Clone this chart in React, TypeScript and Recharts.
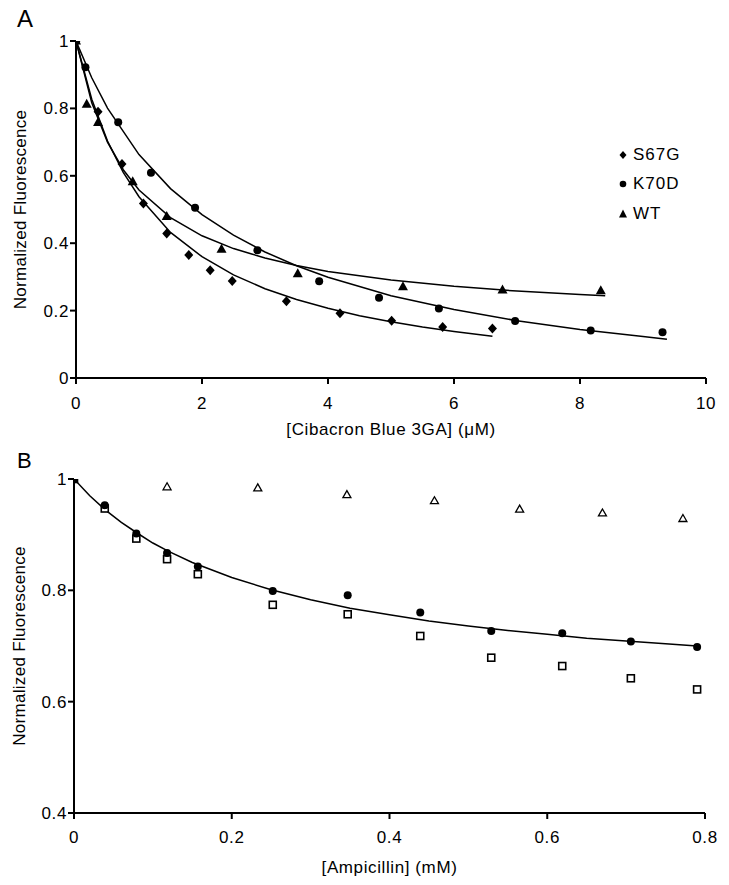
import { Label, Scatter, ScatterChart, XAxis, YAxis } from "recharts";

const FONT = "'Liberation Sans', Arial, Helvetica, sans-serif";

// Panel A: Cibacron Blue 3GA titration (µM)
const s67gX = [0, 0.35, 0.73, 1.07, 1.44, 1.79, 2.13, 2.48, 3.34, 4.19, 5.01, 5.82, 6.61];
const s67gY = [1, 0.79, 0.635, 0.518, 0.429, 0.365, 0.32, 0.288, 0.228, 0.192, 0.17, 0.151, 0.147];
const k70dX = [0, 0.15, 0.67, 1.19, 1.89, 2.88, 3.86, 4.81, 5.76, 6.97, 8.17, 9.31];
const k70dY = [1, 0.922, 0.759, 0.609, 0.505, 0.379, 0.287, 0.238, 0.206, 0.169, 0.141, 0.136];
const wtX = [0, 0.17, 0.35, 0.9, 1.44, 2.31, 3.52, 5.19, 6.77, 8.33];
const wtY = [1, 0.812, 0.758, 0.582, 0.479, 0.382, 0.309, 0.271, 0.261, 0.259];

// fitted curves
const s67gFitX = [0, 0.25, 0.5, 0.75, 1, 1.5, 2, 2.5, 3, 3.5, 4, 4.5, 5, 5.5, 6, 6.61];
const s67gFitY = [1, 0.827, 0.703, 0.61, 0.538, 0.432, 0.36, 0.306, 0.265, 0.233, 0.207, 0.185, 0.167, 0.151, 0.138, 0.124];
const k70dFitX = [0, 0.25, 0.5, 1, 1.5, 2, 2.5, 3, 3.5, 4, 5, 6, 7, 8, 9, 9.38];
const k70dFitY = [1, 0.891, 0.801, 0.663, 0.562, 0.485, 0.424, 0.374, 0.333, 0.299, 0.244, 0.203, 0.17, 0.144, 0.123, 0.115];
const wtFitX = [0, 0.25, 0.5, 0.75, 1, 1.5, 2, 2.5, 3, 3.5, 4, 5, 6, 7, 8, 8.4];
const wtFitY = [1, 0.817, 0.7, 0.618, 0.558, 0.476, 0.422, 0.384, 0.356, 0.334, 0.316, 0.291, 0.272, 0.258, 0.248, 0.244];

// Panel B: ampicillin titration (mM)
const ampFilledX = [0, 0.039, 0.079, 0.118, 0.157, 0.252, 0.347, 0.439, 0.529, 0.619, 0.706, 0.79];
const ampFilledY = [1, 0.953, 0.902, 0.867, 0.843, 0.799, 0.791, 0.76, 0.727, 0.723, 0.708, 0.698];
const ampSquareX = [0, 0.039, 0.079, 0.118, 0.157, 0.252, 0.347, 0.439, 0.529, 0.619, 0.706, 0.79];
const ampSquareY = [1, 0.947, 0.893, 0.856, 0.829, 0.774, 0.757, 0.718, 0.679, 0.664, 0.642, 0.622];
const ampTriX = [0.118, 0.233, 0.346, 0.457, 0.565, 0.67, 0.772];
const ampTriY = [0.986, 0.984, 0.972, 0.961, 0.946, 0.939, 0.929];
const ampFitX = [0, 0.02, 0.04, 0.06, 0.08, 0.1, 0.12, 0.15, 0.2, 0.25, 0.3, 0.35, 0.4, 0.45, 0.5, 0.55, 0.6, 0.65, 0.7, 0.75, 0.79];
const ampFitY = [1, 0.97, 0.944, 0.922, 0.903, 0.885, 0.87, 0.85, 0.823, 0.801, 0.783, 0.768, 0.756, 0.745, 0.736, 0.728, 0.721, 0.714, 0.709, 0.704, 0.7];

const ticksA = [0, 2, 4, 6, 8, 10];
const yTicksA = [0, 0.2, 0.4, 0.6, 0.8, 1];
const ticksB = [0, 0.2, 0.4, 0.6, 0.8];
const yTicksB = [0.4, 0.6, 0.8, 1];

const zip = (xs: number[], ys: number[]) => xs.map((x, i) => ({ x, y: ys[i] }));

const tickStyle = { fontSize: 17, fill: "#000", fontFamily: FONT, letterSpacing: 0.6 };
const titleStyle = { fontSize: 17, fill: "#000", fontFamily: FONT, letterSpacing: 0.6, textAnchor: "middle" as const };
const yTitleStyle = { ...titleStyle, letterSpacing: 0.3 };
const axisLine = { stroke: "#000", strokeWidth: 2 };

const noDot = () => <g />;
const diamond = (p: any) => (
  <path d={`M${p.cx},${p.cy - 5}L${p.cx + 4.5},${p.cy}L${p.cx},${p.cy + 5}L${p.cx - 4.5},${p.cy}Z`} fill="#000" />
);
const dot = (p: any) => <circle cx={p.cx} cy={p.cy} r={4} fill="#000" />;
const triangle = (p: any) => (
  <path d={`M${p.cx},${p.cy - 5.5}L${p.cx + 5},${p.cy + 3.5}L${p.cx - 5},${p.cy + 3.5}Z`} fill="#000" />
);
const openSquare = (p: any) => (
  <rect x={p.cx - 3.5} y={p.cy - 3.5} width={7} height={7} fill="#fff" stroke="#000" strokeWidth={1.6} />
);
const openTriangle = (p: any) => (
  <path d={`M${p.cx},${p.cy - 4}L${p.cx + 4},${p.cy + 3}L${p.cx - 4},${p.cy + 3}Z`} fill="none" stroke="#000" strokeWidth={1.3} />
);

const fitLine = { stroke: "#000", strokeWidth: 1.5 };

function LegendRow({ top, label, marker }: { top: number; label: string; marker: React.ReactNode }) {
  return (
    <div style={{ position: "absolute", left: 616, top, height: 17, display: "flex", alignItems: "center" }}>
      <svg width={14} height={14} style={{ display: "block" }}>
        {marker}
      </svg>
      <span style={{ marginLeft: 3, fontFamily: FONT, fontSize: 17, lineHeight: "17px", letterSpacing: 1 }}>{label}</span>
    </div>
  );
}

export default function App() {
  return (
    <div style={{ position: "absolute", left: 0, top: 0, width: 729, height: 885, background: "#fff" }}>
      <div style={{ position: "absolute", left: 17, top: 7, fontFamily: FONT, fontSize: 24, lineHeight: "24px" }}>A</div>
      <div style={{ position: "absolute", left: 17, top: 450, fontFamily: FONT, fontSize: 22, lineHeight: "22px" }}>B</div>

      <div style={{ position: "absolute", left: 0, top: 0 }}>
        <ScatterChart width={729} height={440} margin={{ top: 41, right: 23, bottom: 0, left: 0 }}>
          <XAxis
            type="number"
            dataKey="x"
            domain={[0, 10]}
            ticks={ticksA}
            height={62}
            tick={tickStyle}
            tickSize={6}
            tickMargin={13}
            axisLine={axisLine}
            tickLine={axisLine}
            allowDataOverflow
          >
            <Label value="[Cibacron Blue 3GA] (μM)" position="insideBottom" offset={5} style={titleStyle} />
          </XAxis>
          <YAxis
            type="number"
            dataKey="y"
            domain={[0, 1]}
            ticks={yTicksA}
            width={76}
            tick={tickStyle}
            tickSize={6}
            tickMargin={1}
            axisLine={axisLine}
            tickLine={axisLine}
            allowDataOverflow
          >
            <Label value="Normalized Fluorescence" angle={-90} position="insideLeft" offset={20} style={yTitleStyle} />
          </YAxis>
          <Scatter data={zip(s67gFitX, s67gFitY)} line={fitLine} shape={noDot} isAnimationActive={false} />
          <Scatter data={zip(k70dFitX, k70dFitY)} line={fitLine} shape={noDot} isAnimationActive={false} />
          <Scatter data={zip(wtFitX, wtFitY)} line={fitLine} shape={noDot} isAnimationActive={false} />
          <Scatter name="S67G" data={zip(s67gX, s67gY)} shape={diamond} isAnimationActive={false} />
          <Scatter name="K70D" data={zip(k70dX, k70dY)} shape={dot} isAnimationActive={false} />
          <Scatter name="WT" data={zip(wtX, wtY)} shape={triangle} isAnimationActive={false} />
        </ScatterChart>
      </div>

      <LegendRow top={146} label="S67G" marker={<path d="M7,3L10.5,7L7,11L3.5,7Z" fill="#000" />} />
      <LegendRow top={175} label="K70D" marker={<circle cx={7} cy={7} r={3.3} fill="#000" />} />
      <LegendRow top={205} label="WT" marker={<path d="M7,2.5L11,10.5L3,10.5Z" fill="#000" />} />

      <div style={{ position: "absolute", left: 0, top: 440 }}>
        <ScatterChart width={729} height={445} margin={{ top: 39, right: 24, bottom: 0, left: 0 }}>
          <XAxis
            type="number"
            dataKey="x"
            domain={[0, 0.8]}
            ticks={ticksB}
            height={72}
            tick={tickStyle}
            tickSize={6}
            tickMargin={12}
            axisLine={axisLine}
            tickLine={axisLine}
            allowDataOverflow
          >
            <Label value="[Ampicillin] (mM)" position="insideBottom" offset={12} style={titleStyle} />
          </XAxis>
          <YAxis
            type="number"
            dataKey="y"
            domain={[0.4, 1]}
            ticks={yTicksB}
            width={74}
            tick={tickStyle}
            tickSize={6}
            tickMargin={1}
            axisLine={axisLine}
            tickLine={axisLine}
            allowDataOverflow
          >
            <Label value="Normalized Fluorescence" angle={-90} position="insideLeft" offset={19} style={yTitleStyle} />
          </YAxis>
          <Scatter data={zip(ampFitX, ampFitY)} line={fitLine} shape={noDot} isAnimationActive={false} />
          <Scatter data={zip(ampTriX, ampTriY)} shape={openTriangle} isAnimationActive={false} />
          <Scatter data={zip(ampSquareX, ampSquareY)} shape={openSquare} isAnimationActive={false} />
          <Scatter data={zip(ampFilledX, ampFilledY)} shape={dot} isAnimationActive={false} />
        </ScatterChart>
      </div>
    </div>
  );
}
